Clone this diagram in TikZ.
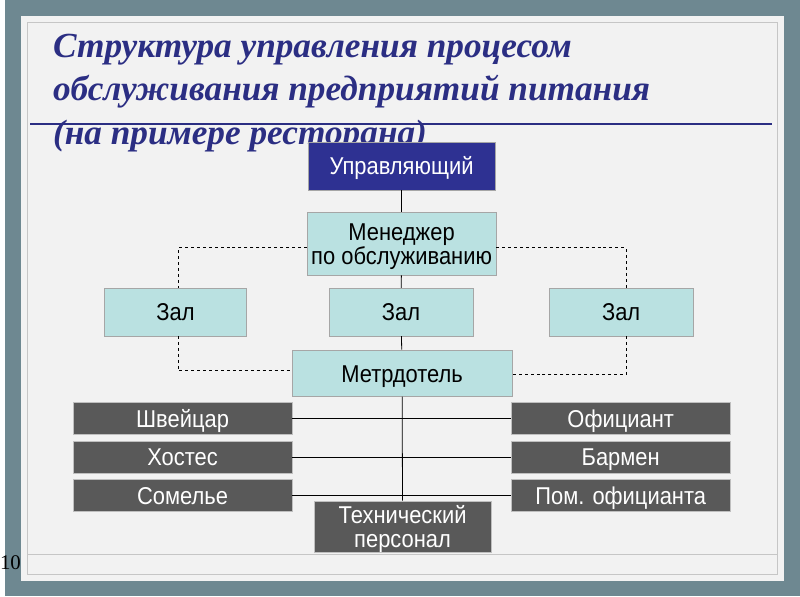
\documentclass[tikz,border=0pt]{standalone}
\usepackage{fontspec}
\setmainfont{Liberation Sans}[FakeStretch=0.9]
\newfontfamily\titlefont{Liberation Serif}
\usetikzlibrary{positioning}
\definecolor{slidebg}{RGB}{110,136,145}
\definecolor{panelgray}{RGB}{242,242,242}
\definecolor{titleblue}{RGB}{43,46,131}
\definecolor{bossblue}{RGB}{46,49,146}
\definecolor{hallteal}{RGB}{186,225,225}
\definecolor{staffgray}{RGB}{89,89,89}

\begin{document}
\begin{tikzpicture}[x=1pt, y=-1pt,
    box/.style={draw=gray!70, inner sep=0pt, align=center, text height=18pt, text depth=0pt, font=\fontsize{24.5}{24.5}\selectfont},
    twoline/.style={text height=42pt, text depth=-4pt},
    lightbox/.style={box, fill=hallteal, text=black},
    staffbox/.style={box, fill=staffgray, draw=gray!50, text=white, minimum width=220, minimum height=32},
    titleline/.style={anchor=base west, inner sep=0pt, text=titleblue, font=\titlefont\bfseries\itshape\fontsize{35.5}{40}\selectfont},
    link/.style={line width=0.8pt}]

  % Slide background
  \fill[slidebg] (0,0) rectangle (800,600);
  \fill[panelgray] (16,16) rectangle (784,585);
  \draw[gray!45] (22,22) rectangle (777,578);
  \draw[gray!45] (22,558) -- (777,558);
  \node[font=\titlefont\fontsize{21}{22}\selectfont, anchor=base east, inner sep=0pt] (pagenum) at (16,573) {10};

  % Title
  \node[titleline] (title1) at (48,58) {Структура управления процесом};
  \node[titleline] (title2) at (48,101) {обслуживания предприятий питания};
  \node[titleline] (title3) at (48,145) {(на примере ресторана)};
  \draw[titleblue, line width=2pt] (25,125) -- (772,125);

  % Management
  \node[box, fill=bossblue, text=white, minimum width=188, minimum height=48] (boss) at (399,167) {Управляющий};
  \node[lightbox, twoline, minimum width=190, minimum height=63] (mgr) at (399,245.5) {Менеджер\\по обслуживанию};
  \node[lightbox, minimum width=143, minimum height=48] (hall1) at (171.5,314) {Зал};
  \node[lightbox, minimum width=145, minimum height=48] (hall2) at (398.5,314) {Зал};
  \node[lightbox, minimum width=144, minimum height=48] (hall3) at (620,314) {Зал};
  \node[lightbox, minimum width=221, minimum height=47] (metr) at (399.5,375.5) {Метрдотель};

  % Staff
  \node[staffbox] (doorman) at (178.5,421) {Швейцар};
  \node[staffbox] (hostess) at (178.5,460) {Хостес};
  \node[staffbox] (sommelier) at (178.5,498.5) {Сомелье};
  \node[staffbox] (waiter) at (619.5,421) {Официант};
  \node[staffbox] (barman) at (619.5,460) {Бармен};
  \node[staffbox] (busboy) at (619.5,498.5) {Пом. официанта};
  \node[staffbox, twoline, minimum width=178, minimum height=52] (tech) at (400,530) {Технический\\персонал};

  % Links
  \draw[link] (boss) -- (mgr);
  \draw[link] (mgr) -- (hall2);
  \draw[link] (hall2) -- (metr);
  \draw[link] (metr) -- (tech);
  \draw[link] (doorman) -- (waiter);
  \draw[link] (hostess) -- (barman);
  \draw[link] (sommelier) -- (busboy);
  \draw[link, dashed] ([yshift=-4pt]mgr.west) -| ([xshift=2.5pt]hall1.north);
  \draw[link, dashed] ([yshift=-4pt]mgr.east) -| ([xshift=5pt]hall3.north);
  \draw[link, dashed] ([xshift=2.5pt]hall1.south) |- ([yshift=2.5pt]metr.west);
  \draw[link, dashed] ([xshift=5pt]hall3.south) |- ([yshift=-1.5pt]metr.east);
\end{tikzpicture}
\end{document}
